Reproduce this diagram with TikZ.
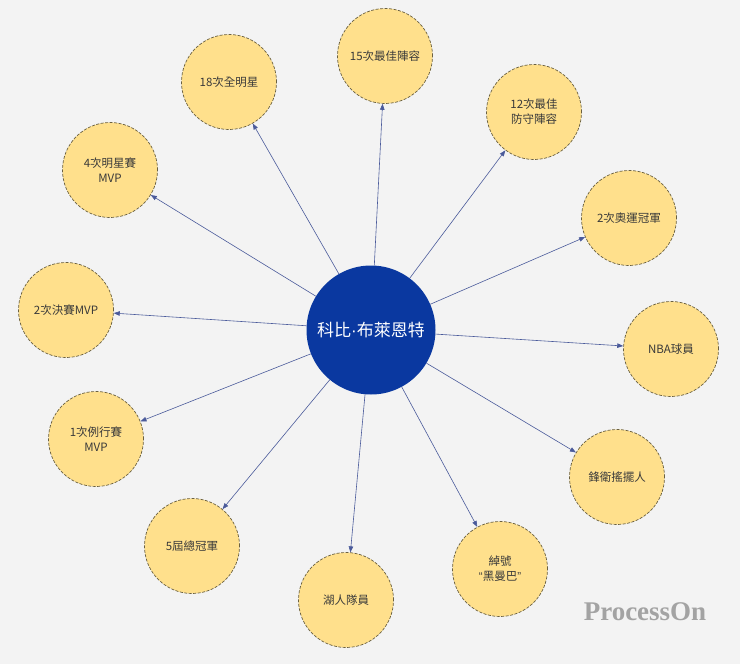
\documentclass[tikz,border=0pt]{standalone}
\usepackage{fontspec}
\setmainfont{Noto Sans CJK TC}
\newfontfamily\latinfont{Liberation Sans}
\newfontfamily\wmfont{Liberation Serif}
\usetikzlibrary{arrows.meta}
\definecolor{bgc}{HTML}{F3F3F3}
\definecolor{leaf}{HTML}{FFE08C}
\definecolor{leafline}{HTML}{6A6040}
\definecolor{hub}{HTML}{0A38A0}
\definecolor{edge}{HTML}{4A5A9A}
\definecolor{txt}{HTML}{3A3A3A}
\definecolor{wm}{HTML}{A3A3A3}
\begin{document}
\begin{tikzpicture}[x=1pt,y=-1pt,
  leafnode/.style={circle,draw=leafline,fill=leaf,dashed,dash pattern=on 3pt off 1.5pt,line width=0.7pt,minimum size=95pt,inner sep=0pt,align=center,font=\fontsize{11.5}{15}\selectfont,text=txt},
  hubnode/.style={circle,fill=hub,minimum size=129pt,inner sep=0pt,text=white,font=\fontsize{17}{20}\selectfont},
  link/.style={draw=edge,line width=0.6pt,-{Triangle[length=6pt,width=4.5pt]}}]
\fill[bgc] (0,0) rectangle (740,664);
\useasboundingbox (0,0) rectangle (740,664);
\node[hubnode] (c) at (371,330) {科比{\latinfont ·}布萊恩特};
\node[leafnode] (n1) at (385,56) {15次最佳陣容};
\node[leafnode] (n2) at (534,112) {12次最佳\\防守陣容};
\node[leafnode] (n3) at (629,218) {2次奧運冠軍};
\node[leafnode] (n4) at (671,349) {NBA球員};
\node[leafnode] (n5) at (617,477) {鋒衛搖擺人};
\node[leafnode] (n6) at (500,569) {綽號\\{\latinfont “}黑曼巴{\latinfont ”}};
\node[leafnode] (n7) at (346,600) {湖人隊員};
\node[leafnode] (n8) at (192,546) {5屆總冠軍};
\node[leafnode] (n9) at (96,439) {1次例行賽\\MVP};
\node[leafnode] (n10) at (66,310) {2次決賽MVP};
\node[leafnode] (n11) at (110,170) {4次明星賽\\MVP};
\node[leafnode] (n12) at (229,82) {18次全明星};
\foreach \t in {n1,n2,n3,n4,n5,n6,n7,n8,n9,n10,n11,n12}
  \draw[link] (c) -- (\t);
\node[font=\wmfont\bfseries\fontsize{27}{30}\selectfont,text=wm] (wmk) at (645,612) {ProcessOn};
\end{tikzpicture}
\end{document}
